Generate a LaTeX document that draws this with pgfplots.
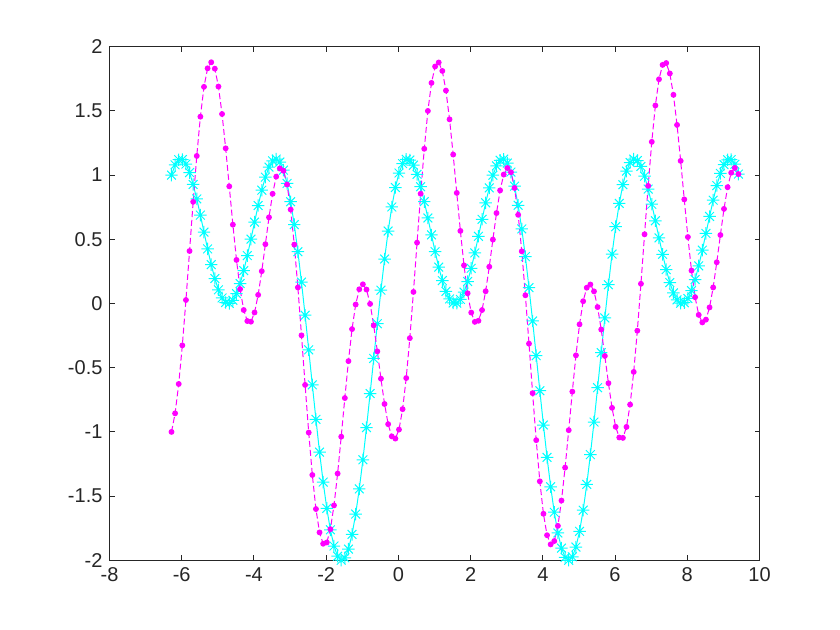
\documentclass[border=0pt]{standalone}
\usepackage{pgfplots}
\pgfplotsset{compat=1.18}
\usepackage{pgfplotstable}
\usepackage{fontspec}
\setmainfont{Liberation Sans}
\definecolor{axgray}{RGB}{38,38,38}
\definecolor{mcyan}{RGB}{0,255,255}
\definecolor{mmag}{RGB}{255,0,255}
\pgfdeclareplotmark{mstar}{%
  \pgfpathmoveto{\pgfqpoint{-\pgfplotmarksize}{0pt}}%
  \pgfpathlineto{\pgfqpoint{\pgfplotmarksize}{0pt}}%
  \pgfpathmoveto{\pgfqpoint{0pt}{-\pgfplotmarksize}}%
  \pgfpathlineto{\pgfqpoint{0pt}{\pgfplotmarksize}}%
  \pgfpathmoveto{\pgfqpoint{-0.7071\pgfplotmarksize}{-0.7071\pgfplotmarksize}}%
  \pgfpathlineto{\pgfqpoint{0.7071\pgfplotmarksize}{0.7071\pgfplotmarksize}}%
  \pgfpathmoveto{\pgfqpoint{-0.7071\pgfplotmarksize}{0.7071\pgfplotmarksize}}%
  \pgfpathlineto{\pgfqpoint{0.7071\pgfplotmarksize}{-0.7071\pgfplotmarksize}}%
  \pgfusepathqstroke}
\pgfplotstableread{
x y1 y2
-6.2832 1.0000 -1.0000
-6.1832 1.0799 -0.8555
-6.0832 1.1197 -0.6267
-5.9832 1.1209 -0.3261
-5.8832 1.0861 0.0271
-5.7832 1.0197 0.4087
-5.6832 0.9270 0.7918
-5.5832 0.8142 1.1491
-5.4832 0.6882 1.4548
-5.3832 0.5561 1.6874
-5.2832 0.4253 1.8315
-5.1832 0.3027 1.8787
-5.0832 0.1946 1.8288
-4.9832 0.1067 1.6895
-4.8832 0.0432 1.4757
-4.7832 0.0075 1.2083
-4.6832 0.0013 0.9121
-4.5832 0.0249 0.6137
-4.4832 0.0771 0.3392
-4.3832 0.1553 0.1116
-4.2832 0.2556 -0.0509
-4.1832 0.3729 -0.1367
-4.0832 0.5012 -0.1417
-3.9832 0.6336 -0.0700
-3.8832 0.7630 0.0671
-3.7832 0.8821 0.2518
-3.6832 0.9840 0.4615
-3.5832 1.0621 0.6709
-3.4832 1.1106 0.8543
-3.3832 1.1248 0.9879
-3.2832 1.1013 1.0523
-3.1832 1.0381 1.0338
-3.0832 0.9348 0.9263
-2.9832 0.7925 0.7315
-2.8832 0.6139 0.4587
-2.7832 0.4031 0.1248
-2.6832 0.1658 -0.2482
-2.5832 -0.0913 -0.6341
-2.4832 -0.3606 -1.0054
-2.3832 -0.6338 -1.3354
-2.2832 -0.9023 -1.6007
-2.1832 -1.1574 -1.7830
-2.0832 -1.3908 -1.8710
-1.9832 -1.5949 -1.8610
-1.8832 -1.7627 -1.7575
-1.7832 -1.8887 -1.5725
-1.6832 -1.9685 -1.3245
-1.5832 -1.9996 -1.0371
-1.4832 -1.9809 -0.7364
-1.3832 -1.9129 -0.4489
-1.2832 -1.7980 -0.1992
-1.1832 -1.6401 -0.0079
-1.0832 -1.4444 0.1107
-0.9832 -1.2176 0.1494
-0.8832 -0.9671 0.1086
-0.7832 -0.7011 -0.0031
-0.6832 -0.4283 -0.1706
-0.5832 -0.1572 -0.3729
-0.4832 0.1037 -0.5855
-0.3832 0.3465 -0.7828
-0.2832 0.5644 -0.9397
-0.1832 0.7515 -1.0349
-0.0832 0.9031 -1.0521
0.0168 1.0162 -0.9819
0.1168 1.0894 -0.8227
0.2168 1.1226 -0.5807
0.3168 1.1174 -0.2698
0.4168 1.0770 0.0900
0.5168 1.0058 0.4738
0.6168 0.9093 0.8545
0.7168 0.7937 1.2047
0.8168 0.6662 1.4995
0.9168 0.5338 1.7181
1.0168 0.4039 1.8458
1.1168 0.2834 1.8770
1.2168 0.1783 1.8113
1.3168 0.0942 1.6583
1.4168 0.0352 1.4339
1.5168 0.0044 1.1598
1.6168 0.0032 0.8613
1.7168 0.0317 0.5652
1.8168 0.0885 0.2970
1.9168 0.1708 0.0793
2.0168 0.2743 -0.0709
2.1168 0.3939 -0.1431
2.2168 0.5233 -0.1348
2.3168 0.6557 -0.0511
2.4168 0.7839 0.0954
2.5168 0.9007 0.2860
2.6168 0.9990 0.4975
2.7168 1.0724 0.7043
2.8168 1.1155 0.8808
2.9168 1.1235 1.0040
3.0168 1.0935 1.0552
3.1168 1.0236 1.0220
3.2168 0.9136 0.8995
3.3168 0.7649 0.6907
3.4168 0.5805 0.4063
3.5168 0.3649 0.0641
3.6168 0.1238 -0.3129
3.7168 -0.1360 -0.6983
3.8168 -0.4065 -1.0644
3.9168 -0.6795 -1.3851
4.0168 -0.9464 -1.6376
4.1168 -1.1984 -1.8046
4.2168 -1.4274 -1.8761
4.3168 -1.6258 -1.8500
4.4168 -1.7870 -1.7317
4.5168 -1.9054 -1.5346
4.6168 -1.9772 -1.2783
4.7168 -1.9999 -0.9867
4.8168 -1.9729 -0.6864
4.9168 -1.8968 -0.4036
5.0168 -1.7744 -0.1625
5.1168 -1.6097 0.0176
5.2168 -1.4083 0.1229
5.3168 -1.1770 0.1480
5.4168 -0.9232 0.0945
5.5168 -0.6555 -0.0279
5.6168 -0.3823 -0.2028
5.7168 -0.1124 -0.4086
5.8168 0.1460 -0.6205
5.9168 0.3851 -0.8126
6.0168 0.5982 -0.9606
6.1168 0.7795 -1.0436
6.2168 0.9249 -1.0466
6.3168 1.0314 -0.9613
6.4168 1.0977 -0.7875
6.5168 1.1243 -0.5328
6.6168 1.1130 -0.2121
6.7168 1.0671 0.1535
6.8168 0.9912 0.5388
6.9168 0.8910 0.9162
7.0168 0.7729 1.2588
7.1168 0.6441 1.5421
7.2168 0.5116 1.7463
7.3168 0.3828 1.8583
7.4168 0.2644 1.8726
7.5168 0.1626 1.7914
7.6168 0.0824 1.6250
7.7168 0.0280 1.3906
7.8168 0.0021 1.1106
7.9168 0.0059 0.8106
8.0168 0.0393 0.5175
8.1168 0.1007 0.2564
8.2168 0.1868 0.0489
8.3168 0.2935 -0.0886
8.4168 0.4152 -0.1473
8.5168 0.5456 -0.1258
8.6168 0.6778 -0.0305
8.7168 0.8045 0.1249
8.8168 0.9187 0.3208
8.9168 1.0132 0.5333
9.0168 1.0819 0.7367
9.1168 1.1194 0.9058
9.2168 1.1212 1.0181
9.3168 1.0845 1.0558
9.4168 1.0078 1.0077
}\data
\begin{document}
\begin{tikzpicture}
\path[use as bounding box] (0,0) rectangle (420pt,315pt);
\begin{axis}[
  at={(54.75pt,34.85pt)}, anchor=south west,
  scale only axis, width=325pt, height=256.8pt,
  xmin=-8, xmax=10, ymin=-2, ymax=2,
  xtick={-8,-6,-4,-2,0,2,4,6,8,10},
  xticklabels={-8,-6,-4,-2,0,2,4,6,8,10},
  ytick={-2,-1.5,-1,-0.5,0,0.5,1,1.5,2},
  yticklabels={-2,-1.5,-1,-0.5,0,0.5,1,1.5,2},
  tick align=inside, tick pos=both, major tick length=2.5pt,
  axis line style={axgray, line width=0.5pt},
  tick style={axgray, line width=0.5pt},
  ticklabel style={font=\fontsize{10}{12}\selectfont, text=axgray},
  clip=false,
]
\addplot[mcyan, line width=0.5pt, mark=mstar, mark size=3.1pt, mark options={solid}] table[x=x, y=y1] {\data};
\addplot[mmag, line width=0.5pt, dash pattern=on 3pt off 1.5pt, mark=*, mark size=1.2pt, mark options={solid}] table[x=x, y=y2] {\data};
\end{axis}
\end{tikzpicture}
\end{document}
